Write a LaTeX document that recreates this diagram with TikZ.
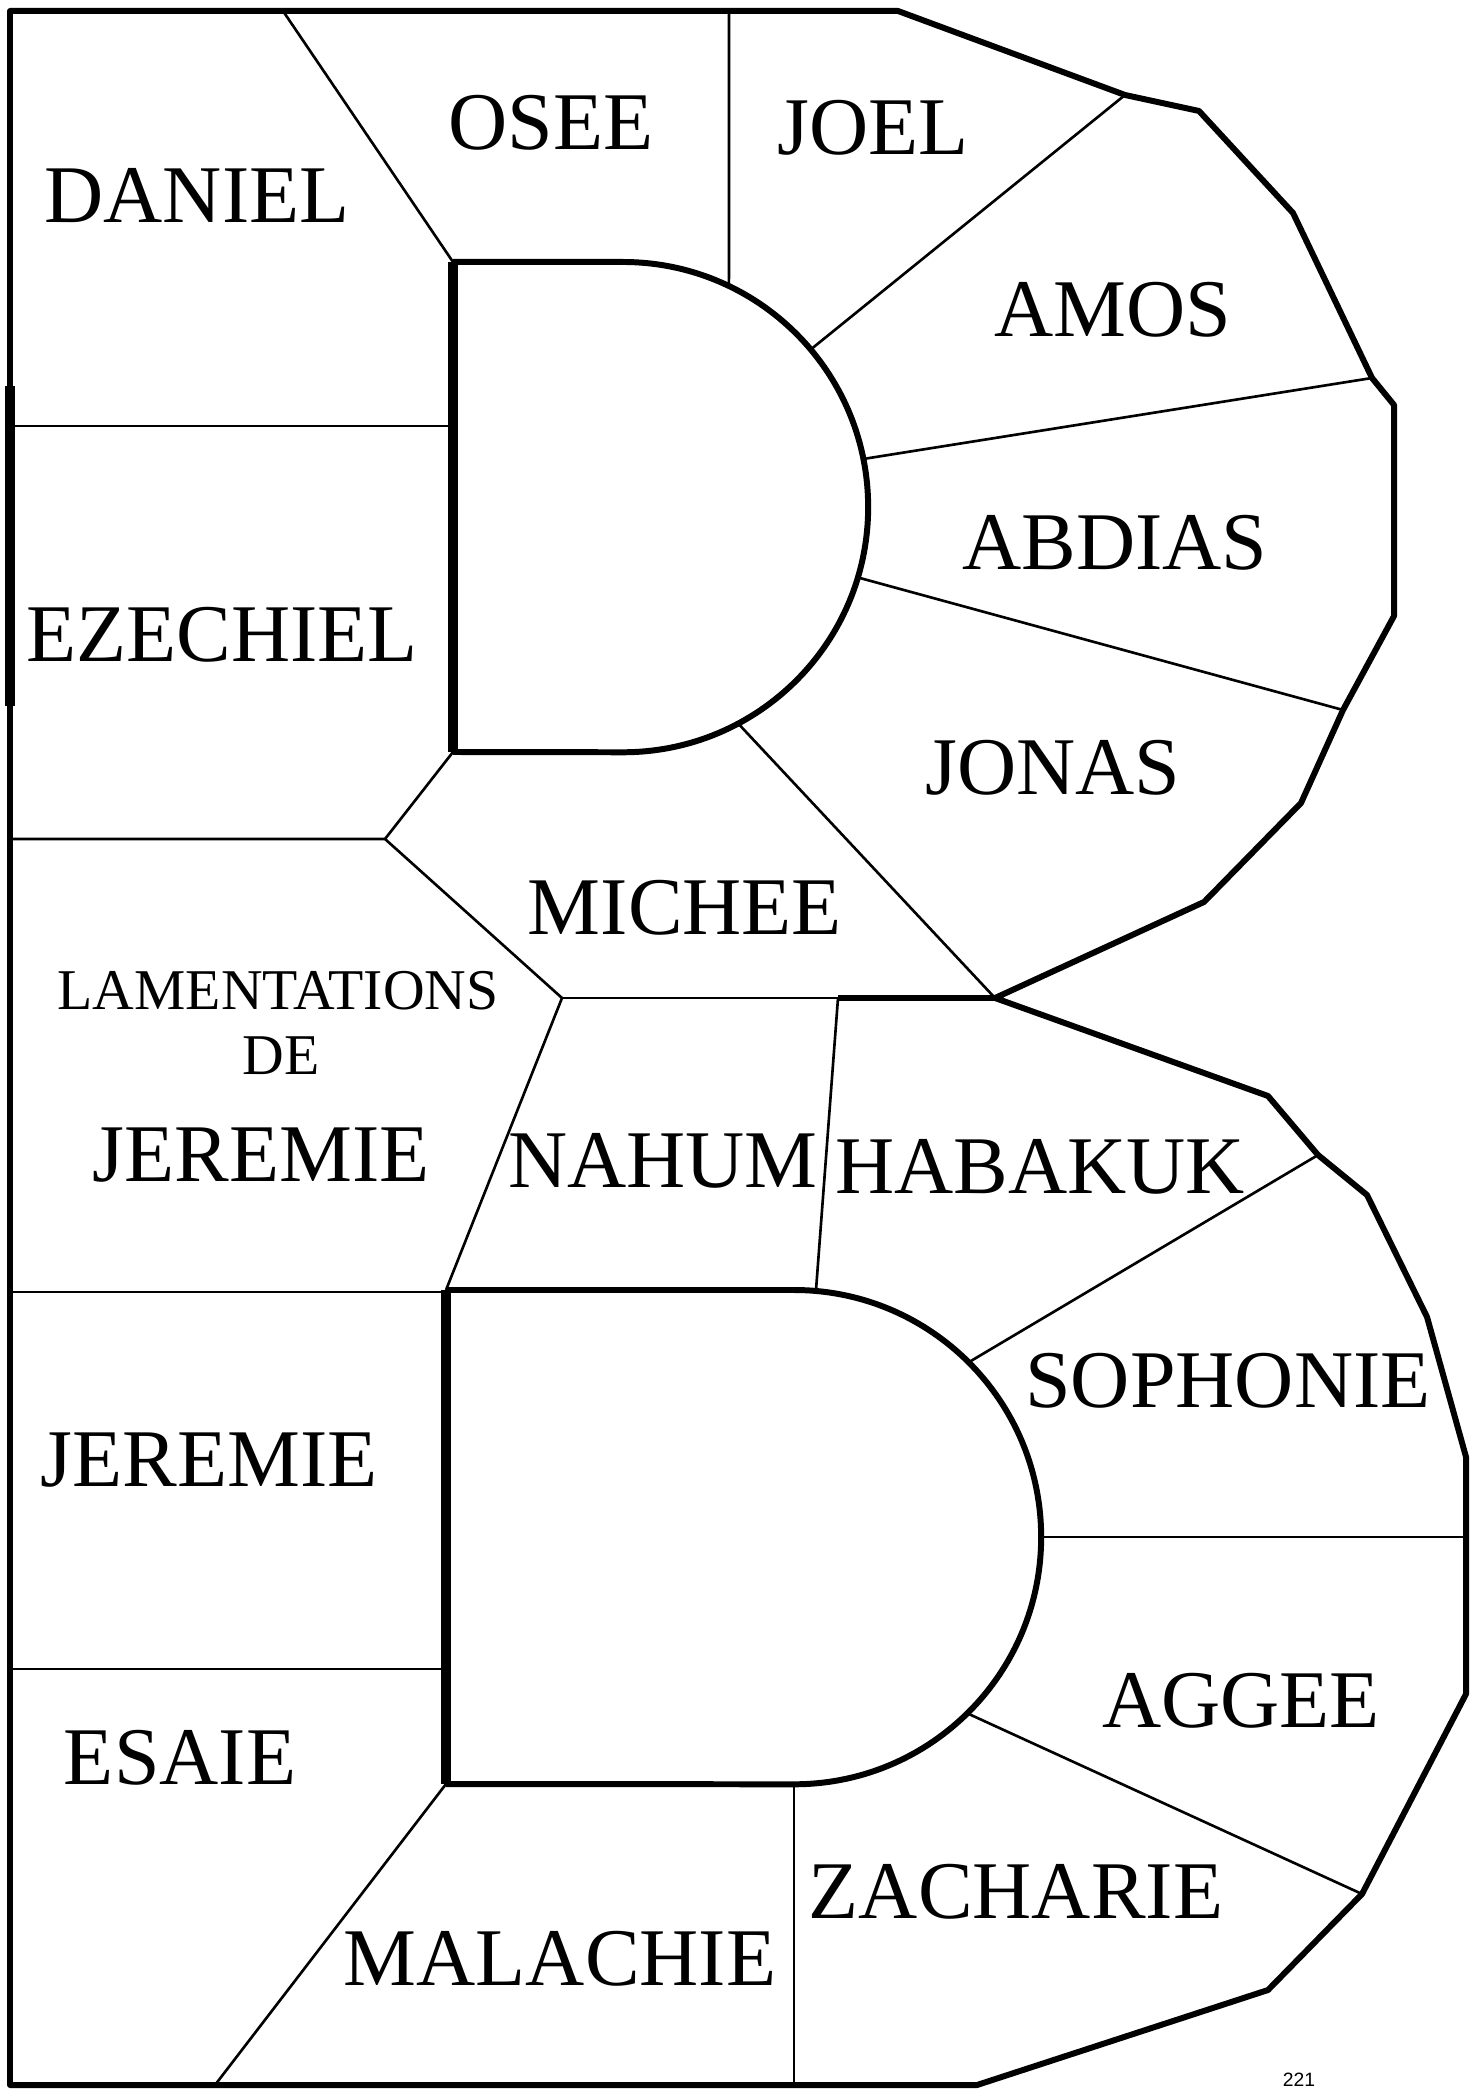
\documentclass[tikz,border=0pt]{standalone}
\usepackage{fontspec}
\setmainfont{Liberation Serif}
\newfontfamily\pagefont{Liberation Sans}
\usetikzlibrary{calc}

\begin{document}
\begin{tikzpicture}[x=0.01cm,y=-0.01cm,
book/.style={anchor=base,inner sep=0pt,font=\fontsize{23.3}{28}\selectfont},
smallbook/.style={book,font=\fontsize{16.4}{20}\selectfont},
rim/.style={line width=1.7pt,line join=round},
wall/.style={line width=1.7pt},
bar/.style={line width=2.6pt},
split/.style={line width=0.75pt}]
\fill[white] (0,0) rectangle (1475,2089);
\useasboundingbox (0,0) rectangle (1475,2089);
% centres of the two bowls, and corners of the rim
\coordinate (uc) at (623,507);
\coordinate (lc) at (794,1537);
\coordinate (tl) at (10,11);
\coordinate (bl) at (10,2085);
\coordinate (w) at (995,998);
\coordinate (r1) at (1125,95);
\coordinate (r2) at (1372,378);
\coordinate (r3) at (1343,710);
\coordinate (r4) at (1318,1155);
\coordinate (r5) at (1466,1537);
\coordinate (r6) at (1362,1894);
\coordinate (b1) at (794,2085);
\coordinate (b2) at (215,2085);
\draw[rim] (tl) -- (898,11) -- (r1) -- (1199,111) -- (1293,213) -- (r2) -- (1394,405)
  -- (1394,616) -- (r3) -- (1301,803) -- (1204,902) -- (w) -- (1268,1096) -- (r4)
  -- (1367,1195) -- (1427,1317) -- (1466,1457) -- (1466,1694) -- (r6) -- (1268,1990)
  -- (977,2085) -- (bl) -- cycle;
\draw[bar] (10,386) -- (10,706);
% upper bowl
\draw[wall] (453,262) -- (623,262) arc[start angle=90,end angle=-90,radius=2.45cm] -- (453,752);
\draw[bar] (453,262) -- (453,752);
% lower bowl
\draw[wall] (446,1290) -- (794,1290) arc[start angle=90,end angle=-90,radius=2.47cm] -- (446,1784);
\draw[bar] (446,1290) -- (446,1784);
% dividers
\draw[split] (283,11) -- (453,262);
\draw[split] (729,11) -- ($(uc)+(64.4:2.45cm)$);
\draw[split] ($(uc)+(40:2.45cm)$) -- (r1);
\draw[split] ($(uc)+(11.3:2.45cm)$) -- (r2);
\draw[split] ($(uc)+(-16.7:2.45cm)$) -- (r3);
\draw[split] ($(uc)+(-62:2.45cm)$) -- (w);
\draw[split] (10,426) -- (453,426);
\draw[split] (10,839) -- (385,839) -- (562,998) -- (446,1290);
\draw[split] (453,752) -- (385,839);
\draw[split] (562,998) -- (838,998);
\draw[rim] (838,998) -- (w);
\draw[split] (838,998) -- (816,1290);
\draw[split] (10,1292) -- (446,1292);
\draw[split] (10,1669) -- (446,1669);
\draw[split] (446,1784) -- (b2);
\draw[split] (794,1784) -- (b1);
\draw[split] ($(lc)+(45:2.47cm)$) -- (r4);
\draw[split] ($(lc)+(0:2.47cm)$) -- (r5);
\draw[split] ($(lc)+(-45.5:2.47cm)$) -- (r6);
% books
\node[book] (osee) at (551,150) {OSEE};
\node[book] (joel) at (873,155) {JOEL};
\node[book] (daniel) at (197,223) {DANIEL};
\node[book] (amos) at (1113,337) {AMOS};
\node[book] (abdias) at (1115,570) {ABDIAS};
\node[book] (ezechiel) at (222,662) {EZECHIEL};
\node[book] (jonas) at (1053,795) {JONAS};
\node[book] (michee) at (685,934) {MICHEE};
\node[smallbook] (lament) at (278,1009) {LAMENTATIONS};
\node[smallbook] (de) at (281,1074) {DE};
\node[book] (jeremie1) at (261,1181) {JEREMIE};
\node[book] (nahum) at (663,1187) {NAHUM};
\node[book] (habakuk) at (1040,1193) {HABAKUK};
\node[book] (sophonie) at (1228,1407) {SOPHONIE};
\node[book] (jeremie2) at (209,1486) {JEREMIE};
\node[book] (aggee) at (1241,1727) {AGGEE};
\node[book] (esaie) at (180,1784) {ESAIE};
\node[book] (zacharie) at (1016,1918) {ZACHARIE};
\node[book] (malachie) at (560,1985) {MALACHIE};
\node[anchor=base,inner sep=0pt,font=\pagefont\fontsize{5.5}{6}\selectfont] (page) at (1299,2086) {221};
\end{tikzpicture}
\end{document}
